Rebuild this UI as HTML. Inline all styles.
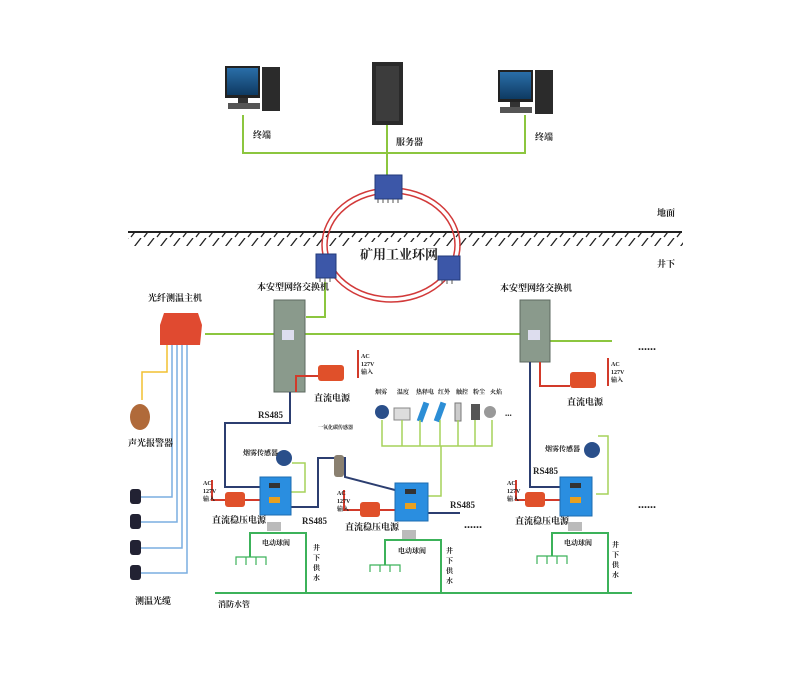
<!DOCTYPE html>
<html><head><meta charset="utf-8"><style>
html,body{margin:0;padding:0;background:#fff;}
svg{display:block;}
text{font-family:"Liberation Serif","Noto Serif CJK SC","Noto Sans CJK SC",serif;font-weight:bold;fill:#222;}
</style></head><body>
<svg width="800" height="675" viewBox="0 0 800 675" xmlns="http://www.w3.org/2000/svg">
<defs>
<pattern id="hatch" width="13" height="14" patternUnits="userSpaceOnUse">
<line x1="11" y1="0" x2="1" y2="13" stroke="#222" stroke-width="1.3"/>
</pattern>
<linearGradient id="scr" x1="0" y1="0" x2="0" y2="1"><stop offset="0" stop-color="#2a6ea8"/><stop offset="1" stop-color="#0e3a62"/></linearGradient>
</defs>

<g stroke="#8cc63f" stroke-width="2" fill="none">
<polyline points="243,115 243,153 525,153 525,115"/>
<line x1="387" y1="125" x2="387" y2="176"/>
</g>
<rect x="225" y="66" width="35" height="32" fill="#222"/>
<rect x="227" y="68" width="31" height="27" fill="url(#scr)"/>
<rect x="238" y="98" width="10" height="5" fill="#333"/>
<rect x="228" y="103" width="32" height="6" fill="#555"/>
<rect x="262" y="67" width="18" height="44" fill="#2b2b2b"/>
<rect x="372" y="62" width="31" height="63" fill="#2a2a2a"/>
<rect x="376" y="66" width="23" height="55" fill="#3c3c3c"/>
<rect x="498" y="70" width="35" height="32" fill="#222"/>
<rect x="500" y="72" width="31" height="27" fill="url(#scr)"/>
<rect x="510" y="102" width="10" height="5" fill="#333"/>
<rect x="500" y="107" width="32" height="6" fill="#555"/>
<rect x="535" y="70" width="18" height="44" fill="#2b2b2b"/>
<text x="253" y="138" font-size="9">终端</text>
<text x="396" y="145" font-size="9">服务器</text>
<text x="535" y="140" font-size="9">终端</text>

<line x1="128" y1="232" x2="682" y2="232" stroke="#222" stroke-width="2"/>
<rect x="128" y="233" width="555" height="13" fill="url(#hatch)"/>
<text x="657" y="216" font-size="9">地面</text>
<text x="657" y="267" font-size="9">井下</text>

<ellipse cx="391" cy="245" rx="69" ry="57" fill="none" stroke="#d23a3a" stroke-width="1.5"/>
<ellipse cx="391" cy="245" rx="64" ry="52" fill="none" stroke="#d23a3a" stroke-width="1.5"/>
<rect x="352" y="242" width="80" height="22" fill="#fff"/>
<text x="360" y="259" font-size="13" fill="#333">矿用工业环网</text>
<g fill="#3c57a8" stroke="#223a7a">
<rect x="375" y="175" width="27" height="24"/>
<rect x="316" y="254" width="20" height="24"/>
<rect x="438" y="256" width="22" height="24"/>
</g>
<g stroke="#555" stroke-width="1">
<line x1="378" y1="199" x2="378" y2="203"/><line x1="383" y1="199" x2="383" y2="203"/><line x1="388" y1="199" x2="388" y2="203"/><line x1="393" y1="199" x2="393" y2="203"/><line x1="398" y1="199" x2="398" y2="203"/>
<line x1="320" y1="278" x2="320" y2="282"/><line x1="325" y1="278" x2="325" y2="282"/><line x1="330" y1="278" x2="330" y2="282"/>
<line x1="442" y1="280" x2="442" y2="284"/><line x1="447" y1="280" x2="447" y2="284"/><line x1="452" y1="280" x2="452" y2="284"/>
</g>

<g stroke="#8cc63f" stroke-width="2" fill="none">
<polyline points="306,317 325,317 325,282"/>
<line x1="205" y1="334" x2="520" y2="334"/>
<line x1="550" y1="341" x2="612" y2="341"/>
</g>
<rect x="274" y="300" width="31" height="92" fill="#8a9a8c" stroke="#5d6a60"/>
<rect x="520" y="300" width="30" height="62" fill="#8a9a8c" stroke="#5d6a60"/>
<rect x="282" y="330" width="12" height="10" fill="#dde"/>
<rect x="528" y="330" width="12" height="10" fill="#dde"/>
<text x="257" y="290" font-size="9">本安型网络交换机</text>
<text x="500" y="291" font-size="9">本安型网络交换机</text>
<text x="638" y="350" font-size="12">......</text>

<text x="148" y="301" font-size="9">光纤测温主机</text>
<path d="M160,325 L164,313 L198,313 L202,325 L200,345 L160,345 Z" fill="#e04a30"/>
<g stroke="#7aaee0" stroke-width="1.5" fill="none">
<polyline points="172,345 172,497 140,497"/>
<polyline points="177,345 177,522 140,522"/>
<polyline points="182,345 182,548 140,548"/>
<polyline points="187,345 187,573 140,573"/>
</g>
<polyline points="167,345 167,372 142,372 142,400" stroke="#f2c030" stroke-width="1.5" fill="none"/>
<ellipse cx="140" cy="417" rx="10" ry="13" fill="#b06a3a"/>
<text x="128" y="446" font-size="9">声光报警器</text>
<g fill="#223">
<rect x="130" y="489" width="11" height="15" rx="3"/>
<rect x="130" y="514" width="11" height="15" rx="3"/>
<rect x="130" y="540" width="11" height="15" rx="3"/>
<rect x="130" y="565" width="11" height="15" rx="3"/>
</g>
<text x="135" y="604" font-size="9">测温光缆</text>

<g stroke="#d23a2a" stroke-width="2" fill="none">
<polyline points="296,392 296,376 318,376"/>
<line x1="358" y1="350" x2="358" y2="378"/>
<polyline points="540,362 540,386 570,386"/>
<line x1="608" y1="358" x2="608" y2="386"/>
<polyline points="212,480 212,500 225,500"/>
<line x1="245" y1="500" x2="260" y2="500"/>
<polyline points="344,490 344,510 360,510"/>
<line x1="380" y1="510" x2="395" y2="510"/>
<polyline points="516,480 516,500 525,500"/>
<line x1="545" y1="500" x2="560" y2="500"/>
</g>
<g fill="#e0502a">
<rect x="318" y="365" width="26" height="16" rx="3"/>
<rect x="570" y="372" width="26" height="16" rx="3"/>
<rect x="225" y="492" width="20" height="15" rx="3"/>
<rect x="360" y="502" width="20" height="15" rx="3"/>
<rect x="525" y="492" width="20" height="15" rx="3"/>
</g>
<g font-size="6">
<text x="361" y="358">AC</text><text x="361" y="366">127V</text><text x="361" y="374">输入</text>
<text x="611" y="366">AC</text><text x="611" y="374">127V</text><text x="611" y="382">输入</text>
<text x="203" y="485">AC</text><text x="203" y="493">127V</text><text x="203" y="501">输入</text>
<text x="337" y="495">AC</text><text x="337" y="503">127V</text><text x="337" y="511">输入</text>
<text x="507" y="485">AC</text><text x="507" y="493">127V</text><text x="507" y="501">输入</text>
</g>
<text x="314" y="401" font-size="9">直流电源</text>
<text x="567" y="405" font-size="9">直流电源</text>

<g stroke="#2c3e70" stroke-width="2" fill="none">
<polyline points="290,392 290,423 225,423 225,487 260,487"/>
<polyline points="290,507 318,507 318,458 345,458 345,477 395,490"/>
<line x1="428" y1="513" x2="460" y2="513"/>
<polyline points="530,362 530,487 560,487"/>
</g>
<text x="258" y="418" font-size="9">RS485</text>
<text x="302" y="524" font-size="9">RS485</text>
<text x="450" y="508" font-size="9">RS485</text>
<text x="533" y="474" font-size="9">RS485</text>
<text x="464" y="528" font-size="12">......</text>
<text x="638" y="508" font-size="12">......</text>

<g font-size="6"><text x="375" y="394">烟雾</text><text x="397" y="394">温度</text><text x="416" y="394">热释电</text><text x="438" y="394">红外</text><text x="456" y="394">触控</text><text x="473" y="394">粉尘</text><text x="490" y="394">火焰</text></g>
<circle cx="382" cy="412" r="7" fill="#2a4f8a"/>
<rect x="394" y="408" width="16" height="12" fill="#ddd" stroke="#888"/>
<rect x="420" y="402" width="6" height="20" fill="#2c8ed6" transform="rotate(20 423 412)"/>
<rect x="437" y="402" width="6" height="20" fill="#2c8ed6" transform="rotate(20 440 412)"/>
<rect x="455" y="403" width="6" height="18" fill="#ccc" stroke="#777"/>
<rect x="471" y="404" width="9" height="16" fill="#555"/>
<circle cx="490" cy="412" r="6" fill="#999"/>
<text x="505" y="416" font-size="9">...</text>
<g stroke="#a6d25a" stroke-width="1.5" fill="none">
<polyline points="382,420 382,446 492,446 492,420"/>
<line x1="402" y1="420" x2="402" y2="446"/><line x1="420" y1="420" x2="420" y2="446"/><line x1="440" y1="420" x2="440" y2="446"/><line x1="458" y1="420" x2="458" y2="446"/><line x1="475" y1="420" x2="475" y2="446"/>
<polyline points="441,446 441,496 428,496"/>
<polyline points="290,492 305,492 305,463 292,463"/>
<polyline points="596,494 608,494 608,436 598,436"/>
</g>
<circle cx="284" cy="458" r="8" fill="#2a4f8a"/>
<circle cx="592" cy="450" r="8" fill="#2a4f8a"/>
<text x="243" y="455" font-size="7">烟雾传感器</text>
<text x="545" y="451" font-size="7">烟雾传感器</text>
<rect x="334" y="455" width="10" height="22" rx="3" fill="#8a8070"/>
<text x="318" y="429" font-size="5">一氧化碳传感器</text>

<g fill="#2a8ee0" stroke="#1d6cb0">
<rect x="260" y="477" width="31" height="38"/>
<rect x="395" y="483" width="33" height="38"/>
<rect x="560" y="477" width="32" height="39"/>
</g>
<g fill="#333"><rect x="269" y="483" width="11" height="5"/><rect x="269" y="497" width="11" height="6" fill="#e8a020"/>
<rect x="405" y="489" width="11" height="5"/><rect x="405" y="503" width="11" height="6" fill="#e8a020"/>
<rect x="570" y="483" width="11" height="5"/><rect x="570" y="497" width="11" height="6" fill="#e8a020"/></g>
<text x="212" y="523" font-size="9">直流稳压电源</text>
<text x="345" y="530" font-size="9">直流稳压电源</text>
<text x="515" y="524" font-size="9">直流稳压电源</text>

<g stroke="#3cb25a" stroke-width="2" fill="none">
<line x1="215" y1="593" x2="632" y2="593"/>
<polyline points="306,593 306,533 250,533 250,557"/>
<polyline points="441,593 441,540 385,540 385,565"/>
<polyline points="608,593 608,533 552,533 552,556"/>
</g>
<g stroke="#3cb25a" stroke-width="1.2" fill="none">
<polyline points="236,565 236,557 266,557 266,565"/><line x1="246" y1="557" x2="246" y2="565"/><line x1="256" y1="557" x2="256" y2="565"/>
<polyline points="370,572 370,565 400,565 400,572"/><line x1="380" y1="565" x2="380" y2="572"/><line x1="390" y1="565" x2="390" y2="572"/>
<polyline points="537,564 537,556 567,556 567,564"/><line x1="547" y1="556" x2="547" y2="564"/><line x1="557" y1="556" x2="557" y2="564"/>
</g>
<g fill="#bbb"><rect x="267" y="522" width="14" height="9"/><rect x="402" y="530" width="14" height="9"/><rect x="568" y="522" width="14" height="9"/></g>
<g font-size="7"><text x="262" y="545">电动球阀</text><text x="398" y="553">电动球阀</text><text x="564" y="545">电动球阀</text></g>
<g font-size="7"><text x="313" y="550">井</text><text x="313" y="560">下</text><text x="313" y="570">供</text><text x="313" y="580">水</text>
<text x="446" y="553">井</text><text x="446" y="563">下</text><text x="446" y="573">供</text><text x="446" y="583">水</text>
<text x="612" y="547">井</text><text x="612" y="557">下</text><text x="612" y="567">供</text><text x="612" y="577">水</text></g>
<text x="218" y="607" font-size="8">消防水管</text>
</svg>
</body></html>
